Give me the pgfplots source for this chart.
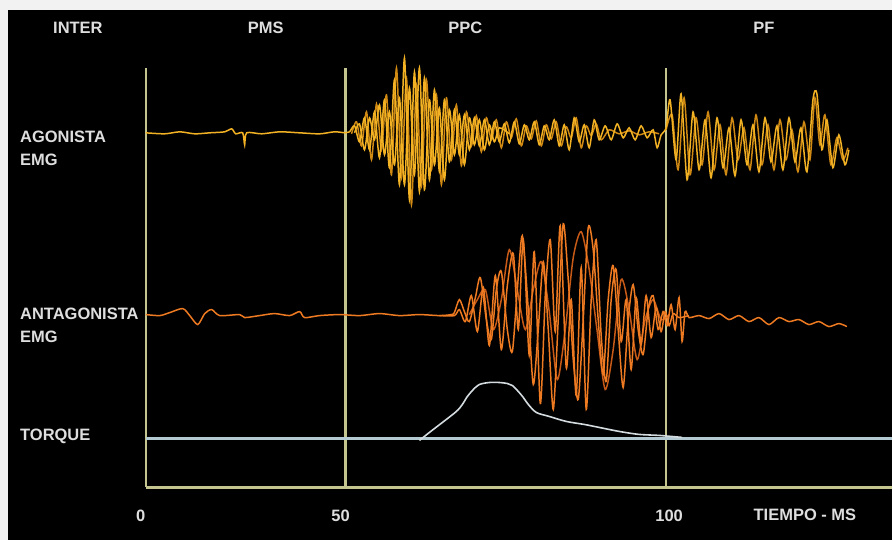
\documentclass[border=0pt]{standalone}
\usepackage{pgfplots}
\pgfplotsset{compat=1.18}
\usepackage{fontspec}
\setmainfont{Liberation Sans}
\definecolor{paper}{HTML}{F2F2F2}
\definecolor{frame}{HTML}{C4C48E}
\definecolor{txt}{HTML}{DEDEDE}
\definecolor{ago}{HTML}{F2B224}
\definecolor{agodark}{HTML}{D08A14}
\definecolor{ant}{HTML}{EE7A22}
\definecolor{antdark}{HTML}{C85A18}
\definecolor{torq}{HTML}{B4CAD2}
\definecolor{torqc}{HTML}{D4DCE0}
\tikzset{lab/.style={font=\fontsize{16.5bp}{18bp}\selectfont\bfseries, text=txt, inner sep=0pt}}

\begin{document}
\begin{tikzpicture}
\begin{axis}[
  scale only axis, width=893bp, height=541bp,
  xmin=0, xmax=893, ymin=0, ymax=541, y dir=reverse,
  hide axis, clip=false,
  emg/.style={line width=1.5pt, smooth, tension=0.45}]
% background
\fill[paper] (axis cs:0,0) rectangle (axis cs:893,541);
\fill[black] (axis cs:8,10) rectangle (axis cs:893,541);
% frame
\addplot[frame, line width=2.4pt] coordinates {(146,68)(146,488)};
\addplot[frame, line width=2.4pt] coordinates {(346,68)(346,488)};
\addplot[frame, line width=2.4pt] coordinates {(667,68)(667,488)};
\addplot[frame, line width=2.4pt] coordinates {(146,488)(893,488)};

% agonista EMG
\addplot[agodark, emg] coordinates {
(352,134)(357,122)(362,146)(367,112)(372,160)(377,104)(382,150)(387,95)(392,175)(397,68)
(402,178)(407,78)(412,205)(417,85)(422,186)(427,80)(432,170)(437,95)(442,185)(447,98)
(452,160)(457,105)(462,166)(467,112)(472,146)(477,116)(482,152)(487,118)(492,140)(497,120)
(502,148)(507,122)(512,138)(517,119)(522,146)(527,126)(532,139)(537,121)(542,146)(547,125)
(552,139)(557,122)(562,146)(567,127)(572,138)(577,118)(582,148)(587,126)(592,136)(597,124)
(602,140)(610,130)(620,134)(630,131)(640,135)(650,132)(660,134)};
\addplot[ago, emg] coordinates {
(355,133)(360,124)(365,150)(370,118)(375,140)(380,105)(385,155)(390,112)(395,165)(400,98)
(405,185)(410,88)(415,175)(420,68)(425,190)(430,100)(435,165)(440,108)(445,180)(450,110)
(455,155)(460,115)(465,165)(470,118)(475,145)(480,120)(485,150)(490,125)(495,142)(500,128)(510,134)};
\addplot[agodark, emg] coordinates {
(667,130)(673,115)(679,170)(685,98)(691,175)(697,118)(703,165)(709,112)(715,170)(721,125)
(727,175)(733,118)(739,160)(745,128)(751,170)(757,115)(763,165)(769,125)(775,170)(781,120)
(787,160)(793,130)(799,172)(805,122)(811,160)(816,98)(821,145)(826,115)(832,165)(838,138)
(844,160)(849,148)};
\addplot[ago, emg] coordinates {
(146,133)(165,134)(180,132)(195,134)(210,133)(225,132)(232,129)(236,134)(243,133)(245,145)
(247,133)(262,134)(280,132)(300,133)(320,134)(335,132)(346,133)
(350,132)(355,126)(360,142)(365,118)(370,150)(375,112)(380,158)(385,100)(390,168)(395,80)
(400,185)(405,58)(410,200)(415,72)(420,192)(425,78)(430,180)(435,90)(440,172)(445,100)
(450,162)(455,110)(460,155)(465,115)(470,150)(475,118)(480,146)(485,120)(490,145)(495,122)
(500,142)(505,124)(510,143)(515,122)(520,144)(525,125)(530,140)(535,122)(540,145)(545,126)
(550,140)(555,120)(560,146)(565,125)(570,150)(575,118)(580,142)(585,125)(590,148)(595,120)
(600,140)(606,126)(612,140)(618,124)(624,138)(630,128)(636,140)(642,126)(648,138)(654,130)
(658,148)(662,135)(667,128)
(671,100)(677,160)(682,94)(688,180)(694,112)(700,170)(706,120)(712,178)(718,118)(724,168)
(730,128)(736,176)(742,120)(748,165)(754,125)(760,172)(766,118)(772,162)(778,126)(784,170)
(790,118)(796,162)(802,128)(808,172)(814,100)(818,94)(823,150)(828,120)(834,168)(840,135)
(846,165)(850,150)};

% antagonista EMG
\addplot[antdark, emg] coordinates {
(470,315)(478,300)(486,290)(494,330)(502,300)(510,250)(518,290)(526,330)(534,290)(542,262)
(550,312)(558,380)(566,330)(574,258)(582,232)(590,270)(598,332)(606,390)(614,350)(622,280)
(630,310)(638,360)(646,320)(654,300)(662,320)(670,315)};
\addplot[ant, emg] coordinates {
(440,316)(455,316)(460,310)(466,322)(472,296)(478,332)(484,288)(490,346)(496,276)(502,350)
(508,286)(514,254)(519,330)(524,240)(530,356)(535,252)(541,404)(546,296)(551,240)(556,332)
(561,226)(567,368)(572,300)(577,396)(582,268)(587,410)(592,300)(597,240)(602,336)(607,382)
(612,300)(617,270)(622,342)(627,300)(632,370)(637,298)(642,345)(647,296)(652,338)(657,308)
(662,332)(666,312)(670,326)(674,314)(680,318)(690,316)};
\addplot[ant, emg] coordinates {
(146,315)(160,316)(170,313)(183,309)(190,316)(198,325)(205,314)(212,310)(220,316)(240,315)
(245,318)(260,316)(275,314)(290,316)(300,312)(305,318)(320,316)(340,315)(360,316)(380,314)
(400,316)(420,315)(440,316)(452,315)
(455,313)(460,300)(465,312)(470,322)(476,298)(481,278)(487,320)(492,340)(497,290)(502,272)
(508,330)(513,352)(518,290)(523,236)(529,310)(534,385)(539,330)(544,262)(549,330)(554,410)
(559,320)(564,224)(569,280)(574,360)(579,400)(584,320)(589,228)(594,250)(599,320)(604,375)
(609,300)(614,266)(619,330)(624,388)(629,320)(634,285)(639,330)(644,355)(649,310)(654,296)
(659,330)(664,312)(668,326)(672,305)(676,330)(680,298)(683,342)(686,312)(690,318)
(700,316)(710,319)(720,314)(730,320)(740,316)(750,322)(760,318)(770,325)(780,318)(790,322)
(800,320)(810,325)(820,322)(830,327)(840,324)(848,327)};

% torque
\addplot[torq, line width=2.4pt] coordinates {(146,439)(893,439)};
\addplot[torqc, line width=1.6pt, smooth, tension=0.5] coordinates {
(420,441)(430,433)(443,423)(457,412)(463,405)(468,397)(474,390)(480,385)(490,383)(500,383)
(508,384)(513,386)(519,392)(524,398)(529,405)(537,413)(550,417)(567,422)(585,425)(600,428)
(620,432)(640,435)(660,436)(683,438)};

% texts
\node[lab] at (axis cs:78,28) {INTER};
\node[lab] at (axis cs:266,28) {PMS};
\node[lab] at (axis cs:466,28) {PPC};
\node[lab] at (axis cs:765,28) {PF};
\node[lab, anchor=west] at (axis cs:20,137) {AGONISTA};
\node[lab, anchor=west] at (axis cs:20,160) {EMG};
\node[lab, anchor=west] at (axis cs:20,314) {ANTAGONISTA};
\node[lab, anchor=west] at (axis cs:20,337) {EMG};
\node[lab, anchor=west] at (axis cs:20,437) {TORQUE};
\node[lab] at (axis cs:141,517) {0};
\node[lab] at (axis cs:341,517) {50};
\node[lab] at (axis cs:670,517) {100};
\node[lab] at (axis cs:806,516) {TIEMPO - MS};
\end{axis}
\end{tikzpicture}
\end{document}
